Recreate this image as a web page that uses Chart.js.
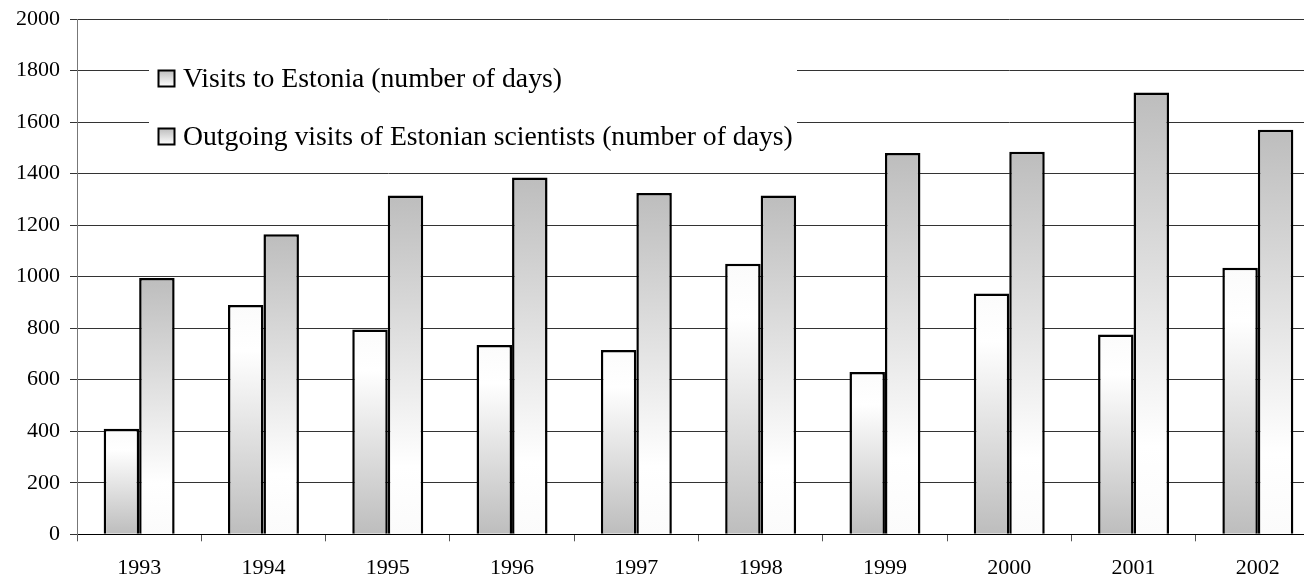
<!DOCTYPE html>
<html>
<head>
<meta charset="utf-8">
<script src="https://cdn.jsdelivr.net/npm/chart.js@4"></script>
<style>
  html, body { margin: 0; padding: 0; background: #fff; overflow: hidden; }
  #wrap { width: 1330px; height: 581px; }
</style>
</head>
<body>
<div id="wrap"><canvas id="grafico" width="1330" height="581"></canvas></div>
<script>
// ── Dados ──
const anos = ["1993", "1994", "1995", "1996", "1997", "1998", "1999", "2000", "2001", "2002"];
const visitasEstonia = [410, 890, 795, 735, 715, 1050, 630, 935, 775, 1035];
const visitasSaida   = [995, 1165, 1315, 1385, 1325, 1315, 1480, 1485, 1715, 1570];
const rotulosSeries  = [
  "Visits to Estonia (number of days)",
  "Outgoing visits of Estonian scientists (number of days)"
];
const ticksY = [0, 200, 400, 600, 800, 1000, 1200, 1400, 1600, 1800, 2000];

const FONTE = "'Liberation Serif', 'Times New Roman', serif";

// gradiente por barra: cinza embaixo -> branco em cima (ou invertido)
function gradienteBarra(ctx, invertido) {
  const chart = ctx.chart;
  if (!chart.chartArea || ctx.type !== "data") return "#d9d9d9";
  const y = chart.scales.y;
  const topo = y.getPixelForValue(ctx.raw);
  const base = y.getPixelForValue(0);
  const g = chart.ctx.createLinearGradient(0, base, 0, topo);
  if (!invertido) {
    g.addColorStop(0, "#bdbdbd");
    g.addColorStop(0.8, "#ffffff");
    g.addColorStop(1, "#fbfbfb");
  } else {
    g.addColorStop(0, "#fbfbfb");
    g.addColorStop(0.2, "#ffffff");
    g.addColorStop(1, "#bdbdbd");
  }
  return g;
}

// legenda desenhada dentro da área do gráfico, com fundo branco
const legendaPlugin = {
  id: "legendaInterna",
  afterDraw(chart) {
    const c = chart.ctx;
    c.save();
    c.fillStyle = "#ffffff";
    c.fillRect(149, 46, 648, 118);
    const linhas = [78.5, 136.5];
    rotulosSeries.forEach((txt, i) => {
      const yc = linhas[i];
      const g = c.createLinearGradient(0, yc + 8, 0, yc - 8);
      g.addColorStop(0, "#ffffff");
      g.addColorStop(1, "#bdbdbd");
      c.fillStyle = g;
      c.fillRect(158.5, yc - 8, 16, 16);
      c.strokeStyle = "#000";
      c.lineWidth = 2;
      c.strokeRect(158.5, yc - 8, 16, 16);
      c.fillStyle = "#000";
      c.font = "27.7px " + FONTE;
      c.textBaseline = "alphabetic";
      c.textAlign = "left";
      c.fillText(txt, 183, yc + 8.5);
    });
    c.restore();
  }
};

new Chart(document.getElementById("grafico").getContext("2d"), {
  type: "bar",
  data: {
    labels: anos,
    datasets: [
      {
        label: rotulosSeries[0],
        data: visitasEstonia,
        backgroundColor: ctx => gradienteBarra(ctx, false),
        borderColor: "#000",
        borderWidth: 2.5,
      },
      {
        label: rotulosSeries[1],
        data: visitasSaida,
        backgroundColor: ctx => gradienteBarra(ctx, true),
        borderColor: "#000",
        borderWidth: 2.5,
      }
    ]
  },
  options: {
    responsive: false,
    animation: false,
    devicePixelRatio: 1,
    layout: { padding: { top: 19, right: 10, left: 0, bottom: 0 } },
    datasets: { bar: { barPercentage: 1, categoryPercentage: 0.571 } },
    plugins: {
      legend: { display: false },
      tooltip: { enabled: false }
    },
    scales: {
      x: {
        afterFit: s => { s.height = 46.7; s.paddingLeft = 0; s.paddingRight = 0; },
        grid: { offset: true, drawOnChartArea: false, drawTicks: true, tickLength: 7, color: "#555" },
        border: { color: "#000", width: 1 },
        ticks: { color: "#000", font: { family: FONTE, size: 22 }, padding: 14, maxRotation: 0 }
      },
      y: {
        min: 0,
        max: 2000,
        afterFit: s => { s.width = 77; s.paddingTop = 0; s.paddingBottom = 0; },
        afterBuildTicks: s => { s.ticks = ticksY.map(v => ({ value: v })); },
        grid: { color: "#333", lineWidth: 1, tickLength: 7 },
        border: { color: "#777", width: 1 },
        ticks: {
          color: "#000",
          font: { family: FONTE, size: 22 },
          padding: 10,
          callback: v => String(v)
        }
      }
    }
  },
  plugins: [legendaPlugin]
});
</script>
</body>
</html>
